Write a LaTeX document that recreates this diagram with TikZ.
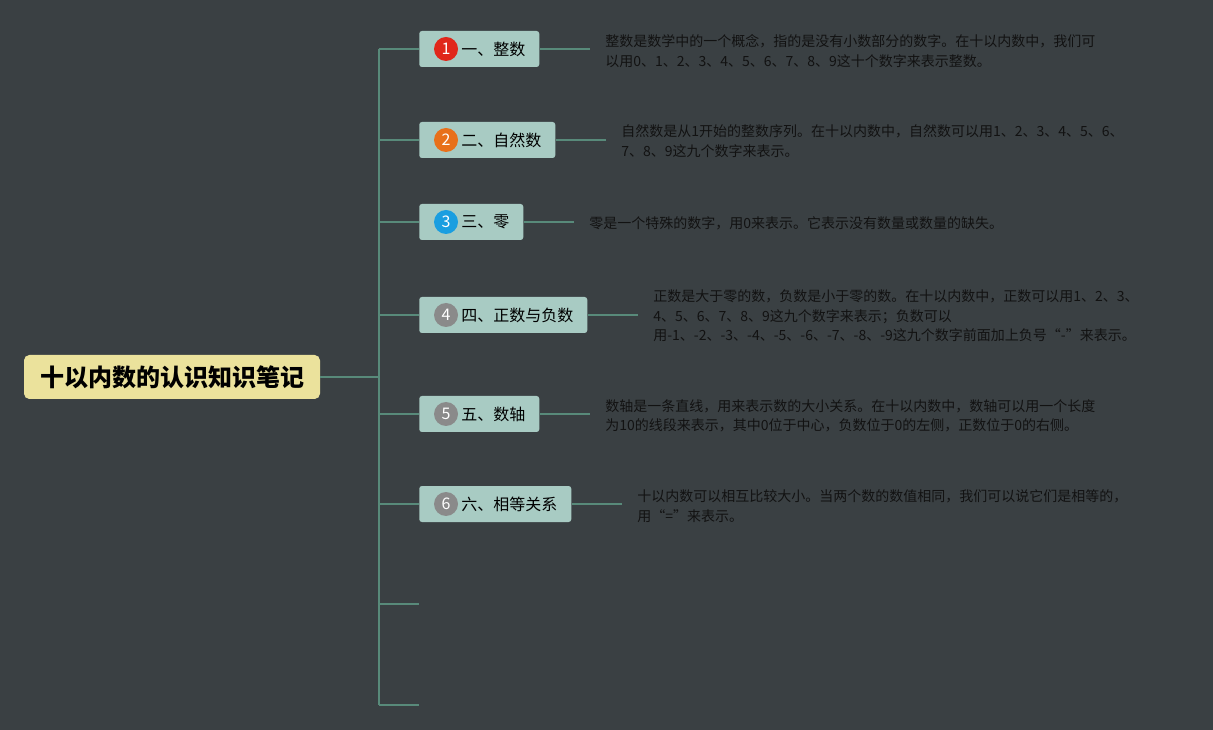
\documentclass[tikz,border=0pt]{standalone}
\usepackage{fontspec}
\setmainfont{Noto Sans CJK SC}
\usetikzlibrary{positioning}
\definecolor{mapbg}{RGB}{58,64,67}
\definecolor{rootbg}{RGB}{235,226,156}
\definecolor{topicbg}{RGB}{168,203,195}
\definecolor{linkc}{RGB}{88,138,122}
\definecolor{desctext}{RGB}{18,18,18}
\definecolor{numred}{RGB}{224,39,26}
\definecolor{numorange}{RGB}{232,112,26}
\definecolor{numblue}{RGB}{26,158,224}
\definecolor{numgray}{RGB}{138,138,138}

\begin{document}
\begin{tikzpicture}[x=0.75pt, y=-0.75pt,
  root/.style={rectangle, rounded corners=4pt, fill=rootbg, text=black,
               minimum height=33pt, inner xsep=12pt,
               font=\fontsize{18}{20}\selectfont\bfseries},
  topic/.style={rectangle, rounded corners=2pt, fill=topicbg, text=black, anchor=west,
                minimum height=27pt, inner xsep=10.5pt, font=\fontsize{12}{14}\selectfont},
  num/.style={circle, fill=#1, text=white, minimum size=18pt, inner sep=0pt,
              font=\fontsize{12}{12}\selectfont},
  desc/.style={anchor=west, align=left, text=desctext, inner xsep=11.25pt, inner ysep=0pt,
               font=\fontsize{10.5}{14.5}\selectfont},
  link/.style={draw=linkc, line width=1.5pt}
]
  \useasboundingbox[fill=mapbg] (0,0) rectangle (1213,730);

  % Root
  \node[root] (root) at (172,377) {十以内数的认识知识笔记};

  % Topics
  \node[topic] (t1) at (419,49)  {\hspace*{21pt}一、整数};
  \node[topic] (t2) at (419,140) {\hspace*{21pt}二、自然数};
  \node[topic] (t3) at (419,222) {\hspace*{21pt}三、零};
  \node[topic] (t4) at (419,315) {\hspace*{21pt}四、正数与负数};
  \node[topic] (t5) at (419,414) {\hspace*{21pt}五、数轴};
  \node[topic] (t6) at (419,504) {\hspace*{21pt}六、相等关系};

  \node[num=numred]    (n1) at (446,49)  {1};
  \node[num=numorange] (n2) at (446,140) {2};
  \node[num=numblue]   (n3) at (446,222) {3};
  \node[num=numgray]   (n4) at (446,315) {4};
  \node[num=numgray]   (n5) at (446,414) {5};
  \node[num=numgray]   (n6) at (446,504) {6};

  % Notes
  \node[desc] (d1) at (590,51) {整数是数学中的一个概念，指的是没有小数部分的数字。在十以内数中，我们可\\以用0、1、2、3、4、5、6、7、8、9这十个数字来表示整数。};
  \node[desc] (d2) at (606,141) {自然数是从1开始的整数序列。在十以内数中，自然数可以用1、2、3、4、5、6、\\7、8、9这九个数字来表示。};
  \node[desc] (d3) at (574,223) {零是一个特殊的数字，用0来表示。它表示没有数量或数量的缺失。};
  \node[desc] (d4) at (638,316) {正数是大于零的数，负数是小于零的数。在十以内数中，正数可以用1、2、3、\\4、5、6、7、8、9这九个数字来表示；负数可以\\用-1、-2、-3、-4、-5、-6、-7、-8、-9这九个数字前面加上负号“-”来表示。};
  \node[desc] (d5) at (590,416) {数轴是一条直线，用来表示数的大小关系。在十以内数中，数轴可以用一个长度\\为10的线段来表示，其中0位于中心，负数位于0的左侧，正数位于0的右侧。};
  \node[desc] (d6) at (622,506) {十以内数可以相互比较大小。当两个数的数值相同，我们可以说它们是相等的，\\用“=”来表示。};

  % Trunk and branches
  \coordinate (hub) at (379,377);
  \foreach \i/\y in {1/49, 2/140, 3/222, 4/315, 5/414, 6/504, 7/604, 8/705}
    \coordinate (b\i) at (379,\y);
  \coordinate (e7) at (419,604);
  \coordinate (e8) at (419,705);

  \draw[link] (root.east) -- (hub);
  \draw[link] (b1) -- (b8);
  \foreach \i in {1,...,6} {
    \draw[link] (b\i) -- (t\i.west);
    \draw[link] (t\i.east) -- (t\i.east -| d\i.west);
  }
  \draw[link] (b7) -- (e7);
  \draw[link] (b8) -- (e8);
\end{tikzpicture}
\end{document}
